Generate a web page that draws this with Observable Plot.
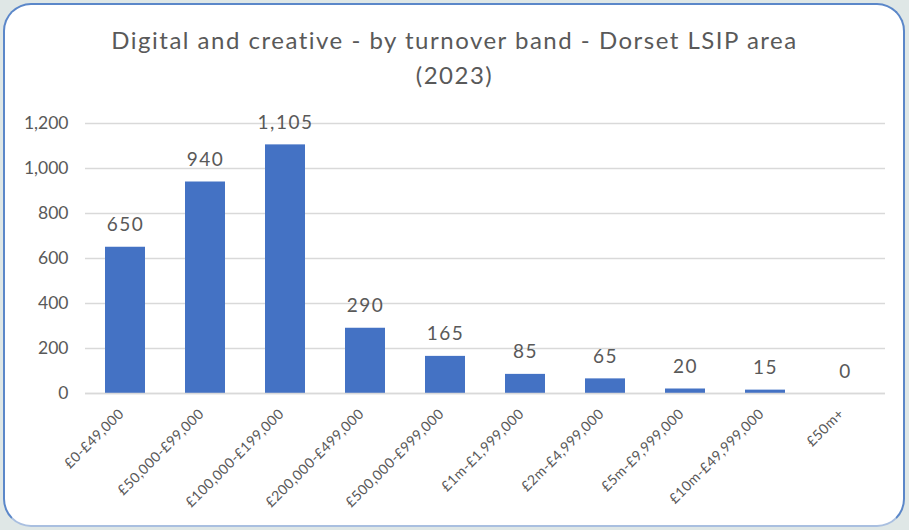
<!DOCTYPE html>
<html>
<head>
<meta charset="utf-8">
<script src="https://cdn.jsdelivr.net/npm/d3@7"></script>
<script src="https://cdn.jsdelivr.net/npm/@observablehq/plot@0.6"></script>
<style>
  html, body { margin: 0; padding: 0; }
  body { width: 909px; height: 530px; background: #dfe7e6; overflow: hidden; font-family: Lato, "Open Sans", sans-serif; }
  #frame { position: absolute; left: 3px; top: 3px; width: 898px; height: 520px; background: #fff;
    border: 2px solid #5b87c9; border-bottom-color: #a9bfe0; border-radius: 28px; }
  #title { position: absolute; left: 0; top: 22px; width: 909px; text-align: center; color: #595959;
    font-size: 24px; line-height: 35px; letter-spacing: 1.5px; }
  #chart { position: absolute; left: 0; top: 100px; }
</style>
</head>
<body>
<div id="frame"></div>
<div id="title">Digital and creative - by turnover band - Dorset LSIP area<br>(2023)</div>
<div id="chart"></div>
<script>
const categories = ["£0-£49,000", "£50,000-£99,000", "£100,000-£199,000", "£200,000-£499,000", "£500,000-£999,000",
  "£1m-£1,999,000", "£2m-£4,999,000", "£5m-£9,999,000", "£10m-£49,999,000", "£50m+"];
const values = [650, 940, 1105, 290, 165, 85, 65, 20, 15, 0];
const yTicks = [0, 200, 400, 600, 800, 1000, 1200];

const data = categories.map((c, i) => ({band: c, value: values[i]}));
const fmt = d3.format(",");

const chart = Plot.plot({
  width: 909,
  height: 430,
  marginLeft: 85,
  marginRight: 24,
  marginTop: 23,
  marginBottom: 137,
  style: {fontFamily: "Lato, 'Open Sans', sans-serif", color: "#595959", background: "transparent"},
  x: {domain: categories, paddingInner: 0.5, paddingOuter: 0.25, label: null},
  y: {domain: [0, 1200], label: null},
  marks: [
    Plot.gridY(yTicks, {stroke: "#d9d9d9", strokeOpacity: 1, strokeWidth: 1.5}),
    Plot.axisY(yTicks, {tickSize: 0, tickPadding: 17, tickFormat: fmt, fontSize: 17.5, fill: "#595959"}),
    Plot.barY(data, {x: "band", y: "value", fill: "#4472C4"}),
    Plot.ruleY([0], {stroke: "#d9d9d9", strokeWidth: 1.5}),
    Plot.axisX({tickSize: 0, tickPadding: 10, tickRotate: -45, fontSize: 14, fill: "#595959", dx: -4, dy: 8}),
    Plot.text(data, {x: "band", y: "value", text: d => fmt(d.value), dy: -22, fontSize: 19, fill: "#595959"})
  ]
});
// slight letter spacing to match reference glyph widths
chart.querySelectorAll("g[aria-label='text'] text").forEach(t => t.setAttribute("letter-spacing", "1.5"));
chart.querySelectorAll("g[aria-label='x-axis tick label'] text").forEach(t => t.setAttribute("letter-spacing", "0.4"));
document.getElementById("chart").appendChild(chart);
</script>
</body>
</html>
